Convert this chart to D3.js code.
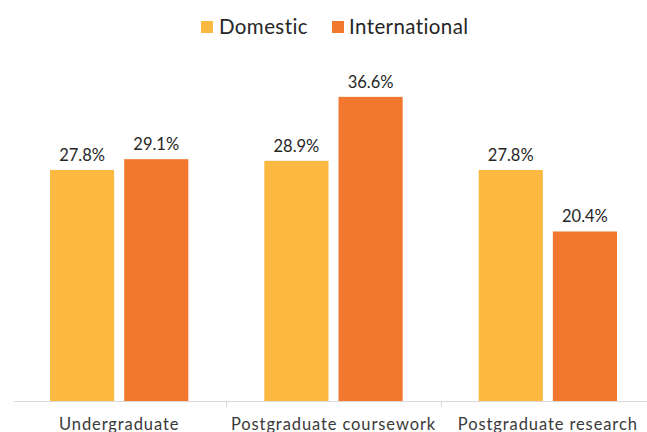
<!DOCTYPE html>
<html><head><meta charset="utf-8">
<script src="https://cdn.jsdelivr.net/npm/d3@7"></script>
<style>body{margin:0;background:#fff;} svg{display:block;font-family:"Lato","Open Sans",sans-serif;}</style>
</head><body>
<svg id="c" width="647" height="432"></svg>
<script>
const categories = ["Undergraduate", "Postgraduate coursework", "Postgraduate research"];
const seriesNames = ["Domestic", "International"];
const domestic = [27.8, 28.9, 27.8];
const international = [29.1, 36.6, 20.4];
const colors = ["#FBB942", "#F2782F"];

const svg = d3.select("#c");
const baseY = 401;
const x0 = d3.scaleBand().domain(categories).range([12, 655]).paddingInner(0).paddingOuter(0);
const x1 = d3.scaleBand().domain(seriesNames).range([38, x0.bandwidth() - 38]).paddingInner(0.135).paddingOuter(0);
const y = d3.scaleLinear().domain([0, 40]).range([baseY, 68.6]);

const data = categories.map((c, i) => ({cat: c, vals: [domestic[i], international[i]]}));

// axis
svg.append("line").attr("x1", 14).attr("x2", 647).attr("y1", baseY + 0.5).attr("y2", baseY + 0.5)
  .attr("stroke", "#d9d9d9").attr("stroke-width", 1);
categories.slice(1).forEach(c => {
  const xx = Math.round(x0(c)) + 0.5;
  svg.append("line").attr("x1", xx).attr("x2", xx).attr("y1", baseY).attr("y2", baseY + 6)
    .attr("stroke", "#d9d9d9");
});
svg.append("g").selectAll("text").data(categories).join("text")
  .attr("x", d => x0(d) + x0.bandwidth() / 2).attr("y", 430)
  .attr("text-anchor", "middle").attr("font-size", 16.5).attr("letter-spacing", 0.9).attr("fill", "#3a3a3a")
  .text(d => d);

const groups = svg.append("g").selectAll("g").data(data).join("g")
  .attr("transform", d => `translate(${x0(d.cat)},0)`);
groups.selectAll("rect").data(d => d.vals.map((v, j) => ({s: seriesNames[j], v, j}))).join("rect")
  .attr("x", d => x1(d.s)).attr("width", x1.bandwidth())
  .attr("y", d => y(d.v)).attr("height", d => baseY - y(d.v))
  .attr("fill", d => colors[d.j]);
groups.selectAll("text").data(d => d.vals.map((v, j) => ({s: seriesNames[j], v, j}))).join("text")
  .attr("x", d => x1(d.s) + x1.bandwidth() / 2).attr("y", d => y(d.v) - 9)
  .attr("text-anchor", "middle").attr("font-size", 16.5).attr("fill", "#262626")
  .text(d => d.v.toFixed(1) + "%");

// legend
const leg = [{n: "Domestic", x: 201, tx: 219}, {n: "International", x: 332, tx: 349}];
leg.forEach((l, i) => {
  svg.append("rect").attr("x", l.x).attr("y", 21).attr("width", 12).attr("height", 12).attr("fill", colors[i]);
  svg.append("text").attr("x", l.tx).attr("y", 34).attr("font-size", 20.5).attr("letter-spacing", 0.4).attr("fill", "#262626").text(l.n);
});
</script>
</body></html>
